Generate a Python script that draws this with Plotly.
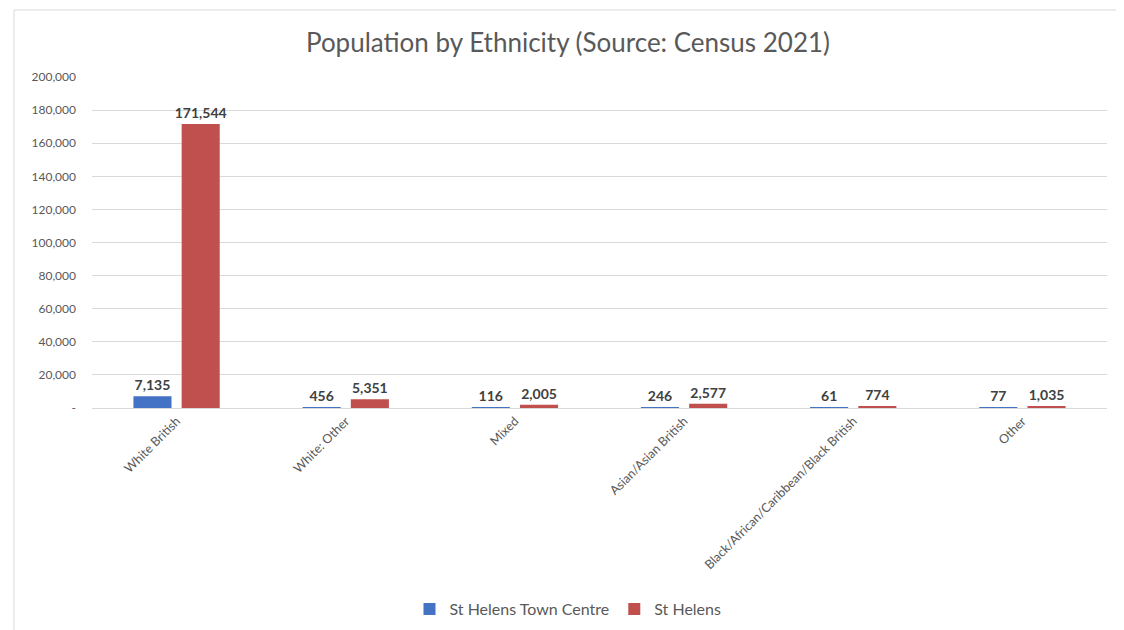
import plotly.graph_objects as go

categories = ["White British", "White: Other", "Mixed", "Asian/Asian British",
              "Black/African/Caribbean/Black British", "Other"]
town_centre = [7135, 456, 116, 246, 61, 77]
st_helens = [171544, 5351, 2005, 2577, 774, 1035]
series_names = ["St Helens Town Centre", "St Helens"]
y_tickvals = [0, 20000, 40000, 60000, 80000, 100000, 120000, 140000, 160000, 180000, 200000]
y_ticktext = ["-"] + [f"{v:,}" for v in y_tickvals[1:]]

FONT = "Lato"
GREY = "#595959"
LABEL = "#404040"

fig = go.Figure()
for name, vals, color in [(series_names[0], town_centre, "#4472C4"),
                          (series_names[1], st_helens, "#C0504D")]:
    fig.add_trace(go.Bar(
        x=categories, y=vals, name=name,
        marker=dict(color=color, line=dict(width=0)),
        text=[f"{v:,}" for v in vals], textposition="outside",
        textfont=dict(family=FONT, size=14, color=LABEL, weight="bold"),
        cliponaxis=False, constraintext="none",
    ))

OFF = 8  # page body margin
W, H = 1124, 630
# page coordinates of the plot area
PL, PR, PT, PB = 92, 1107, 77, 408
L, T = PL - OFF, PT - OFF
R = W - (PR - OFF)
B = H - (PB - OFF)
pw, ph = W - L - R, H - T - B

def px(x):
    return (x - OFF - L) / pw

def py(y):
    return (H - B - (y - OFF)) / ph

fig.update_layout(
    width=W, height=H,
    margin=dict(l=L, r=R, t=T, b=B, autoexpand=False),
    paper_bgcolor="white", plot_bgcolor="white",
    barmode="group", bargap=0.43, bargroupgap=0.21,
    title=dict(text="Population by Ethnicity (Source: Census 2021)",
               x=(568 - OFF) / W, xref="container", xanchor="center",
               y=1 - (43 - OFF) / H, yref="container", yanchor="middle",
               font=dict(family=FONT, size=26, color=GREY)),
    font=dict(family=FONT, color=GREY),
    showlegend=True,
    legend=dict(orientation="h", x=px(568), xanchor="center",
                y=py(609), yanchor="middle",
                font=dict(family=FONT, size=16, color=GREY),
                itemwidth=30, traceorder="normal"),
    xaxis=dict(tickangle=-45, tickfont=dict(family=FONT, size=12.5, color=GREY),
               showline=True, linecolor="#d9d9d9", linewidth=1, ticks="",
               showgrid=False),
    yaxis=dict(range=[0, 200000], tickvals=y_tickvals, ticktext=y_ticktext,
               tickfont=dict(family=FONT, size=12, color=GREY),
               showgrid=True, gridcolor="#d9d9d9", gridwidth=1,
               zeroline=False, showline=False, ticks="", ticklabelstandoff=15),
)

fig.add_shape(type="rect", xref="paper", yref="paper",
              x0=px(14), x1=px(1119), y0=py(10), y1=py(660),
              line=dict(color="#d9d9d9", width=1), fillcolor="rgba(0,0,0,0)",
              layer="below")

fig.write_html("out.html")
